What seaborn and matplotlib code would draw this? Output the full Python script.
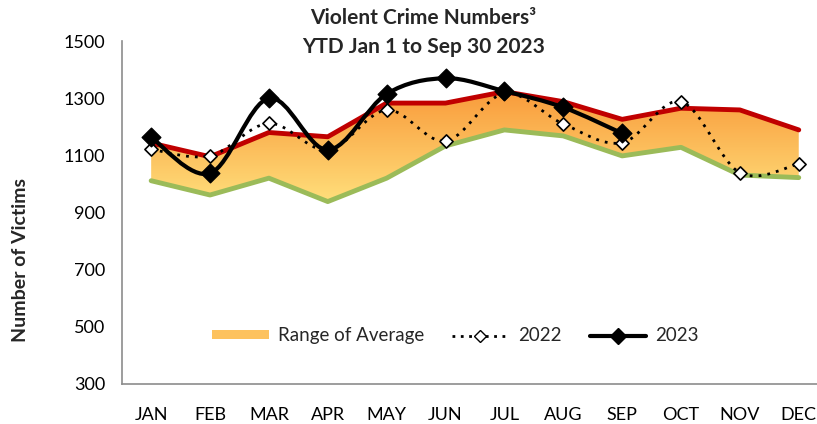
import numpy as np
import pandas as pd
import matplotlib
matplotlib.use("Agg")
import matplotlib.pyplot as plt
import seaborn as sns
from matplotlib.path import Path
from matplotlib.patches import PathPatch, Patch
from matplotlib.colors import LinearSegmentedColormap
from matplotlib.lines import Line2D

months = ["JAN", "FEB", "MAR", "APR", "MAY", "JUN", "JUL", "AUG", "SEP", "OCT", "NOV", "DEC"]
avg_high = [1143, 1095, 1180, 1165, 1283, 1283, 1323, 1288, 1226, 1265, 1259, 1189]
avg_low = [1011, 961, 1020, 938, 1020, 1133, 1189, 1168, 1098, 1128, 1031, 1022]
y2022 = [1121, 1098, 1212, 1119, 1259, 1150, 1317, 1210, 1144, 1288, 1039, 1070]
y2023 = [1163, 1037, 1300, 1119, 1315, 1370, 1325, 1268, 1177]
yticks = [300, 500, 700, 900, 1100, 1300, 1500]

sns.set_theme(style="white")
plt.rcParams['font.family'] = ['Lato', 'DejaVu Sans']


def smooth_path(xs, ys):
    # Excel-style smoothed line drawn as cubic Bezier segments
    pts = np.column_stack([xs, ys]).astype(float)
    n = len(pts)
    verts = [pts[0]]
    codes = [Path.MOVETO]
    for i in range(n - 1):
        p0 = pts[i - 1] if i > 0 else pts[i]
        p1 = pts[i]
        p2 = pts[i + 1]
        p3 = pts[i + 2] if i + 2 < n else pts[i + 1]
        c1 = p1 + (p2 - p0) / 6.0
        c2 = p2 - (p3 - p1) / 6.0
        verts += [c1, c2, p2]
        codes += [Path.CURVE4] * 3
    return Path(verts, codes)


fig = plt.figure(figsize=(8.17, 4.24), dpi=100)
ax = fig.add_axes([0.149, 0.095, 0.851, 0.808])

x = np.arange(len(months))
df_range = pd.DataFrame({"month": x, "high": avg_high, "low": avg_low})

# gradient band
poly = ax.fill_between(df_range["month"], df_range["low"], df_range["high"], color="none", lw=0)
cmap = LinearSegmentedColormap.from_list("band", ["#FFE07C", "#F99A3A"])
grad = np.linspace(0, 1, 256).reshape(-1, 1)
im = ax.imshow(grad, cmap=cmap, aspect="auto", origin="lower",
               extent=[0, 11, 930, 1330], zorder=1)
clip = PathPatch(poly.get_paths()[0], transform=ax.transData, facecolor="none", edgecolor="none")
ax.add_patch(clip)
im.set_clip_path(clip)

sns.lineplot(data=df_range, x="month", y="high", color="#C00000", lw=3.5, ax=ax, zorder=2)
sns.lineplot(data=df_range, x="month", y="low", color="#9BBB59", lw=3.5, ax=ax, zorder=2)

# 2022 dotted smooth
ax.add_patch(PathPatch(smooth_path(x, y2022), facecolor="none", edgecolor="black",
                       lw=2, linestyle=(0, (1, 2.2)), zorder=3))
sns.scatterplot(x=x, y=y2022, marker="D", s=45, color="white", edgecolor="black",
                linewidth=1.2, ax=ax, zorder=4)

# 2023 solid smooth
x23 = np.arange(len(y2023))
ax.add_patch(PathPatch(smooth_path(x23, y2023), facecolor="none", edgecolor="black",
                       lw=3, zorder=5))
sns.scatterplot(x=x23, y=y2023, marker="D", s=90, color="black", edgecolor="black",
                linewidth=1, ax=ax, zorder=6)

ax.set_xlim(-0.5, 11.31)
ax.set_ylim(300, 1500)
ax.set_yticks(yticks)
ax.set_xticks(x)
ax.set_xticklabels(months)
ax.tick_params(axis="both", length=0, labelsize=13, colors="black")
ax.tick_params(axis="x", pad=17)
ax.tick_params(axis="y", pad=12)
for s in ["top", "right"]:
    ax.spines[s].set_visible(False)
for s in ["left", "bottom"]:
    ax.spines[s].set_color("#8C8C8C")
    ax.spines[s].set_linewidth(1.2)
ax.set_xlabel("")
ax.set_ylabel("Number of Victims", fontsize=14, fontweight="bold")
ax.yaxis.set_label_coords(-0.134, 0.36)

fig.text(0.518, 0.958, "Violent Crime Numbers³", ha="center", va="center",
         fontsize=15, fontweight="bold")
fig.text(0.518, 0.889, "YTD Jan 1 to Sep 30 2023", ha="center", va="center",
         fontsize=15, fontweight="bold")

handles = [
    Patch(facecolor="#FDC25E", edgecolor="none"),
    Line2D([0], [0], color="black", lw=2, linestyle=(0, (1, 2)), marker="D",
           markerfacecolor="white", markeredgecolor="black", markersize=6),
    Line2D([0], [0], color="black", lw=3, marker="D", markersize=8),
]
ax.legend(handles, ["Range of Average", "2022", "2023"], loc="center",
          bbox_to_anchor=(0.48, 0.14), ncol=3, frameon=False, fontsize=13.5,
          handlelength=3.0, handleheight=0.3, columnspacing=1.5, handletextpad=0.5)

fig.savefig("out.png", dpi=100)
